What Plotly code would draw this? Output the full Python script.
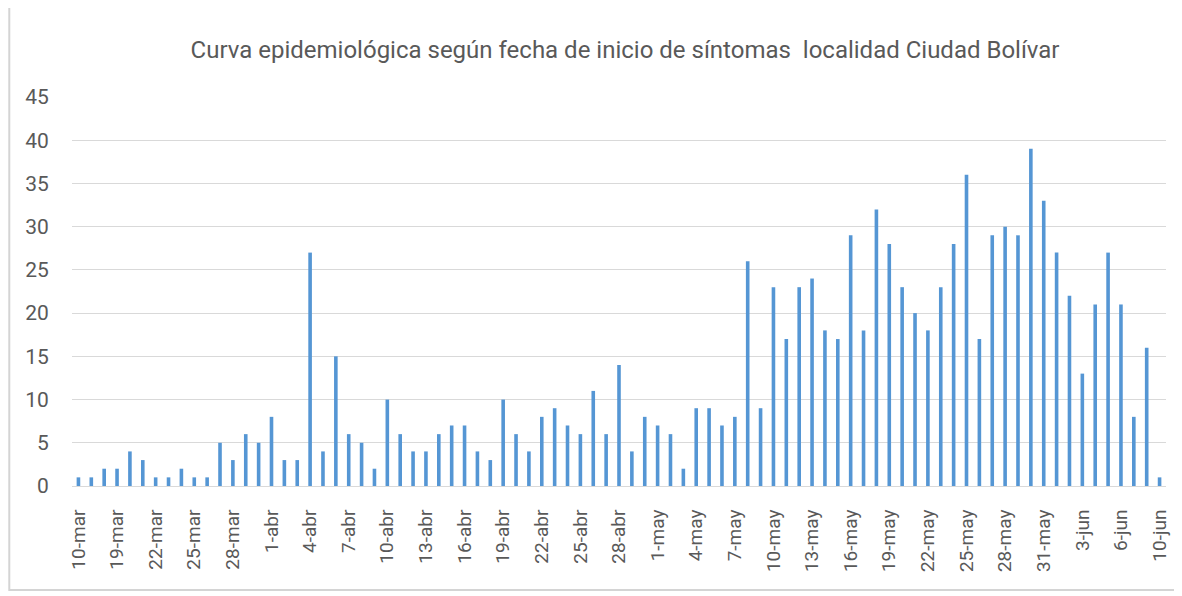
import plotly.graph_objects as go

# Categories (dates of symptom onset) as shown on the category axis
dates = (
    ["10-mar", "17-mar", "18-mar"]
    + [f"{d}-mar" for d in range(19, 30)] + ["31-mar"]
    + [f"{d}-abr" for d in range(1, 31)]
    + [f"{d}-may" for d in range(1, 32)]
    + [f"{d}-jun" for d in range(1, 8)] + ["9-jun", "10-jun"]
)

cases = [
    1, 1, 2, 2, 4, 3, 1, 1, 2, 1,
    1, 5, 3, 6, 5, 8, 3, 3, 27, 4,
    15, 6, 5, 2, 10, 6, 4, 4, 6, 7,
    7, 4, 3, 10, 6, 4, 8, 9, 7, 6,
    11, 6, 14, 4, 8, 7, 6, 2, 9, 9,
    7, 8, 26, 9, 23, 17, 23, 24, 18, 17,
    29, 18, 32, 28, 23, 20, 18, 23, 28, 36,
    17, 29, 30, 29, 39, 33, 27, 22, 13, 21,
    27, 21, 8, 16, 1,
]

tick_labels = dates[::3]
y_ticks = [0, 5, 10, 15, 20, 25, 30, 35, 40, 45]

title = "Curva epidemiológica según fecha de inicio de síntomas  localidad Ciudad Bolívar"

FONT = "Roboto, sans-serif"
GRAY = "#595959"

W, H = 1174, 588
L, R, T, B = 64, 11, 89, 110
PW, PH = W - L - R, H - T - B

fig = go.Figure(
    go.Bar(x=dates, y=cases, marker=dict(color="#5596d4", line=dict(width=0)))
)

fig.update_layout(
    width=W,
    height=H,
    paper_bgcolor="white",
    plot_bgcolor="white",
    bargap=0.72,
    margin=dict(l=L, r=R, t=T, b=B),
    font=dict(family=FONT, color=GRAY, size=14),
    title=dict(
        text=title,
        x=0.5256,
        xanchor="center",
        y=0.93,
        yanchor="middle",
        font=dict(family=FONT, size=24, color=GRAY),
    ),
    showlegend=False,
    shapes=[
        dict(
            type="rect",
            xref="paper",
            yref="paper",
            x0=-(L - 1) / PW,
            x1=1.2,
            y0=-(B - 6) / PH,
            y1=1 + (T + 5) / PH,
            line=dict(color="#d4d4d4", width=2),
            fillcolor="rgba(0,0,0,0)",
            layer="below",
        )
    ],
)

fig.update_xaxes(
    type="category",
    categoryorder="array",
    categoryarray=dates,
    tickmode="array",
    tickvals=tick_labels,
    ticktext=tick_labels,
    tickangle=-90,
    showgrid=False,
    showline=True,
    linecolor="#d9d9d9",
    linewidth=1,
    ticks="outside",
    ticklen=15,
    tickcolor="rgba(0,0,0,0)",
    tickfont=dict(family=FONT, size=19, color=GRAY),
)

fig.update_yaxes(
    range=[0, 45],
    tickmode="array",
    tickvals=y_ticks,
    showgrid=True,
    gridcolor="#d9d9d9",
    gridwidth=1,
    zeroline=False,
    showline=False,
    ticks="outside",
    ticklen=18,
    tickcolor="rgba(0,0,0,0)",
    tickfont=dict(family=FONT, size=21, color=GRAY),
)

fig.write_html("out.html")
